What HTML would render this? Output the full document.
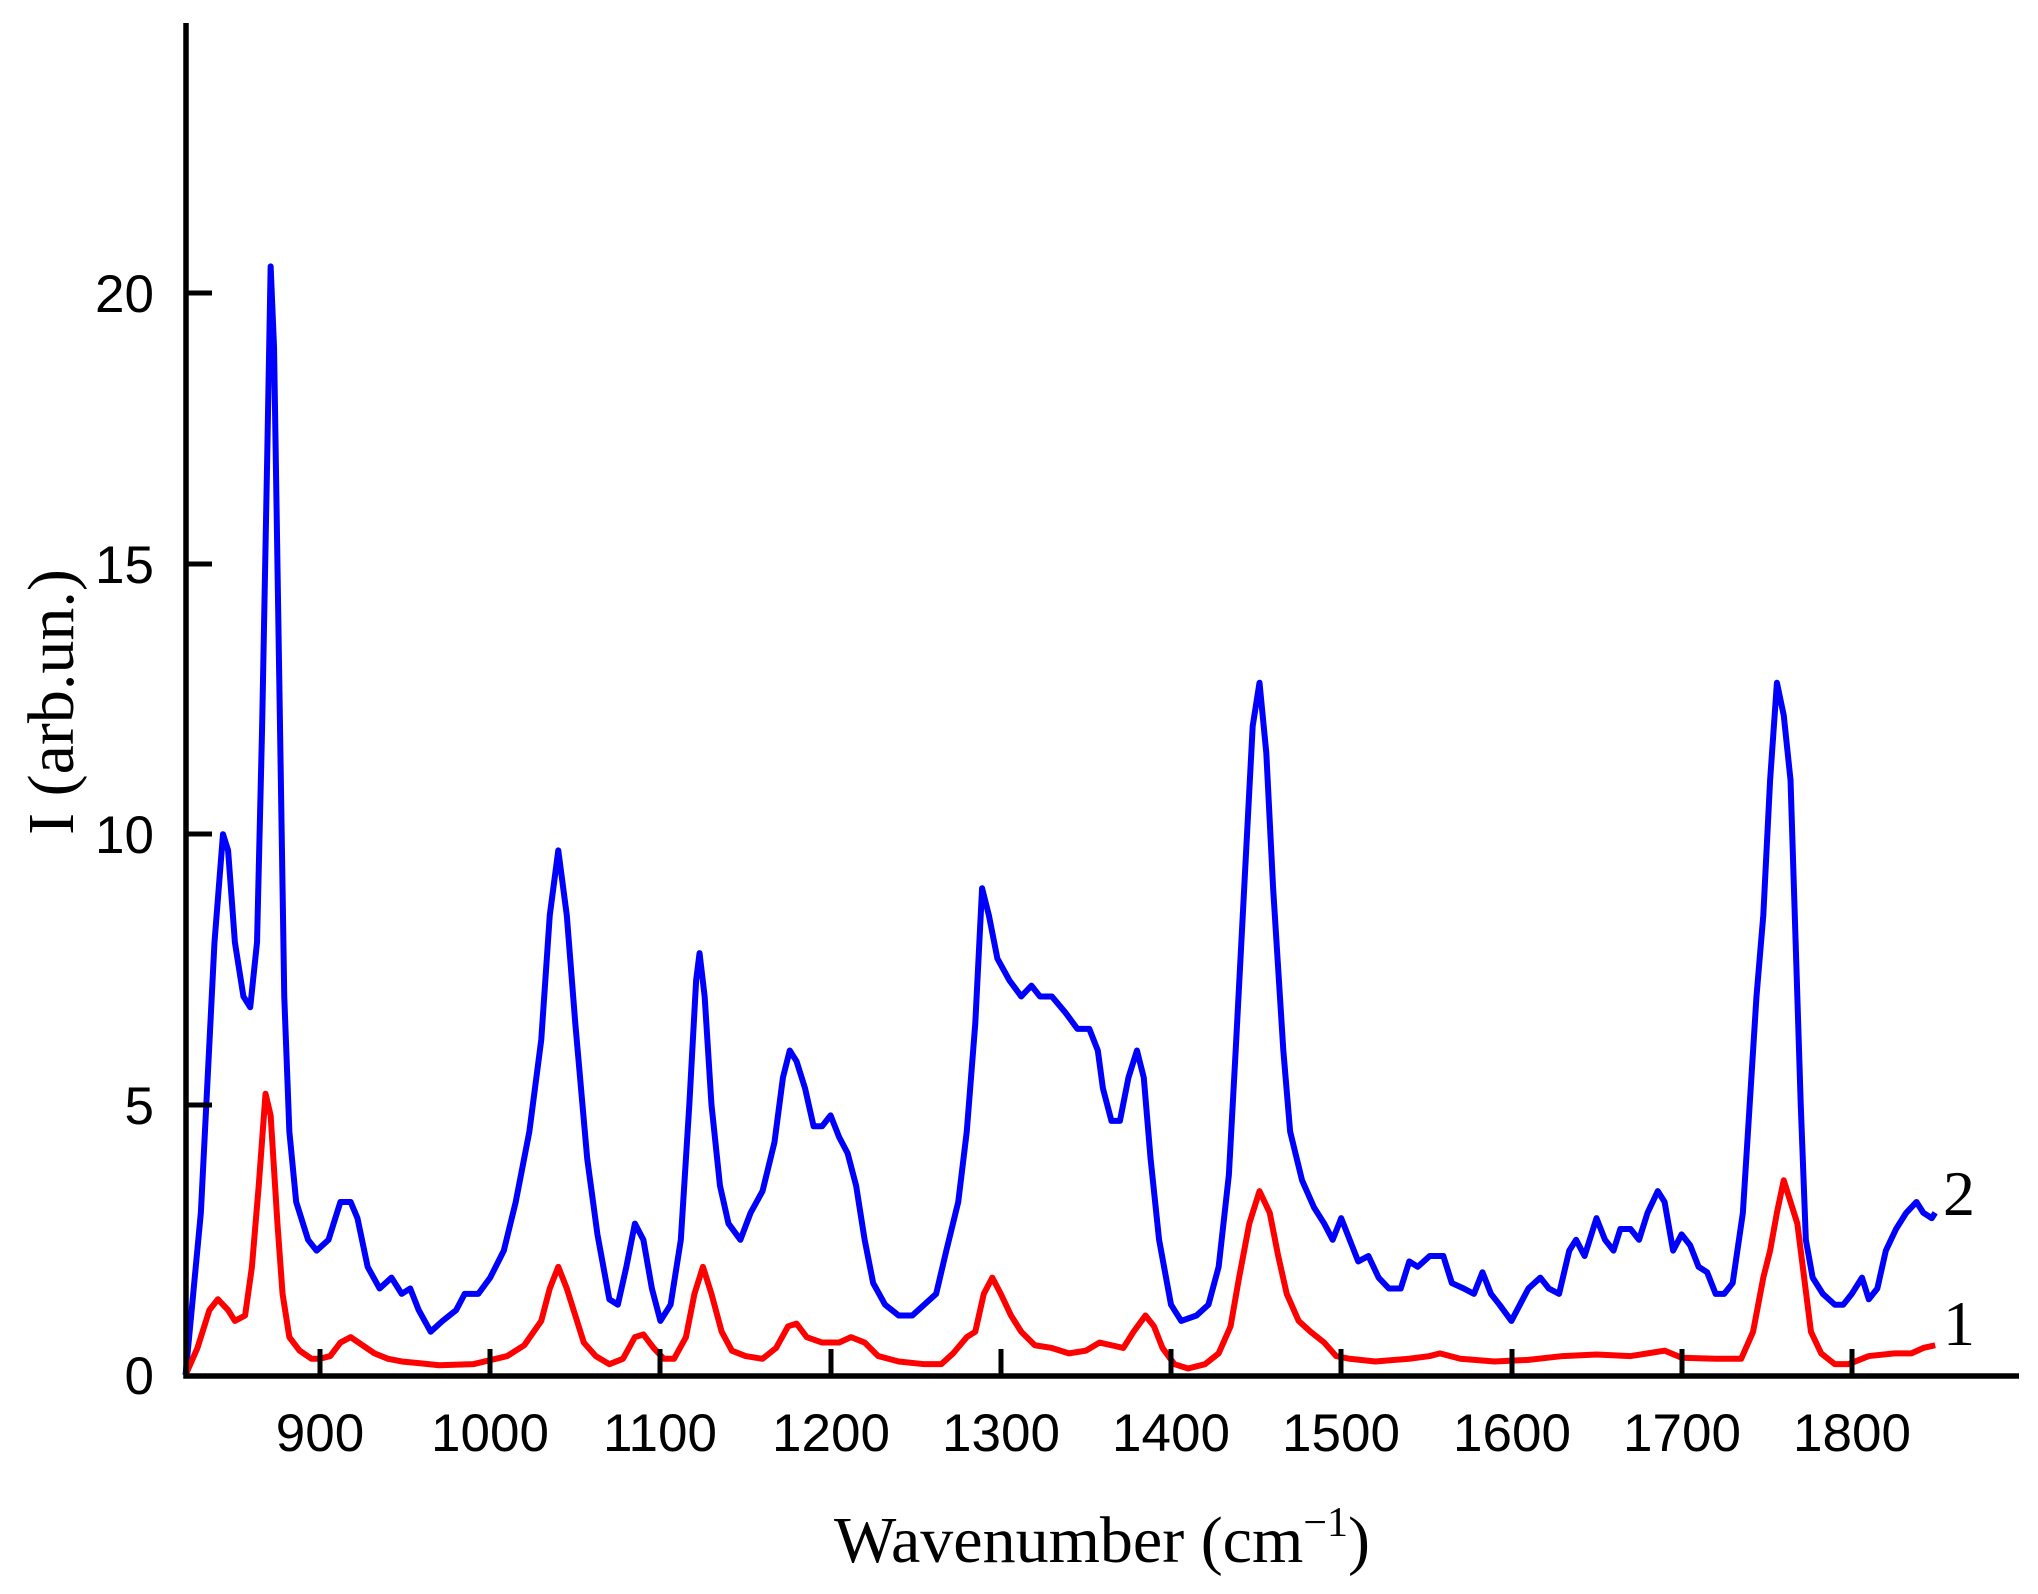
<!DOCTYPE html>
<html><head><meta charset="utf-8"><style>html,body{margin:0;padding:0;background:#fff}</style></head>
<body>
<svg width="2038" height="1589" viewBox="0 0 2038 1589" xmlns="http://www.w3.org/2000/svg">
<rect width="2038" height="1589" fill="#fff"/>
<g transform="translate(320,1375) scale(1.702,-54.08) translate(-900,0)" fill="none" stroke-linejoin="round">
<polyline vector-effect="non-scaling-stroke" stroke="#0000ff" stroke-width="6" points="821,0 830,3 838,8 843,10 846,9.7 850,8 855,7 859,6.8 863,8 866,12 869,17 871,20.5 873,19 876,13 879,7 882,4.5 886,3.2 893,2.5 898,2.3 905,2.5 912,3.2 918,3.2 922,2.9 928,2 935,1.6 942,1.8 948,1.5 953,1.6 958,1.2 965,0.8 972,1.0 980,1.2 985,1.5 993,1.5 1000,1.8 1008,2.3 1015,3.2 1023,4.5 1030,6.2 1035,8.5 1040,9.7 1045,8.5 1050,6.5 1057,4 1063,2.6 1070,1.4 1075,1.3 1080,2 1085,2.8 1090,2.5 1095,1.6 1100,1.0 1106,1.3 1112,2.5 1117,5 1121,7.3 1123,7.8 1126,7 1130,5 1135,3.5 1140,2.8 1147,2.5 1153,3.0 1160,3.4 1167,4.3 1172,5.5 1176,6.0 1180,5.8 1185,5.3 1190,4.6 1195,4.6 1200,4.8 1205,4.4 1210,4.1 1215,3.5 1220,2.5 1225,1.7 1232,1.3 1240,1.1 1248,1.1 1255,1.3 1262,1.5 1268,2.3 1275,3.2 1280,4.5 1285,6.5 1289,9 1293,8.5 1298,7.7 1305,7.3 1312,7.0 1318,7.2 1323,7.0 1330,7.0 1338,6.7 1345,6.4 1352,6.4 1357,6.0 1360,5.3 1365,4.7 1370,4.7 1375,5.5 1380,6.0 1384,5.5 1388,4 1393,2.5 1400,1.3 1406,1.0 1415,1.1 1422,1.3 1428,2 1434,3.7 1438,6 1443,9 1448,12 1452,12.8 1456,11.5 1460,9 1466,6 1470,4.5 1477,3.6 1484,3.1 1490,2.8 1495,2.5 1500,2.9 1505,2.5 1510,2.1 1516,2.2 1522,1.8 1528,1.6 1535,1.6 1540,2.1 1545,2.0 1552,2.2 1560,2.2 1565,1.7 1572,1.6 1578,1.5 1583,1.9 1588,1.5 1593,1.3 1600,1.0 1605,1.3 1610,1.6 1617,1.8 1622,1.6 1628,1.5 1634,2.3 1638,2.5 1643,2.2 1650,2.9 1655,2.5 1660,2.3 1664,2.7 1670,2.7 1675,2.5 1680,3.0 1686,3.4 1690,3.2 1695,2.3 1700,2.6 1705,2.4 1710,2.0 1715,1.9 1720,1.5 1725,1.5 1730,1.7 1736,3 1740,5 1744,7 1748,8.5 1752,11 1756,12.8 1760,12.2 1764,11 1767,8 1770,5 1773,2.5 1777,1.8 1783,1.5 1790,1.3 1795,1.3 1800,1.5 1806,1.8 1810,1.4 1815,1.6 1820,2.3 1826,2.7 1832,3.0 1838,3.2 1842,3.0 1847,2.9 1849,3.0"/>
<polyline vector-effect="non-scaling-stroke" stroke="#ff0000" stroke-width="6" points="821,0 828,0.5 835,1.2 840,1.4 846,1.2 850,1.0 856,1.1 860,2 864,3.5 868,5.2 871,4.8 875,2.8 878,1.5 882,0.7 888,0.45 895,0.3 900,0.3 906,0.35 912,0.6 918,0.7 925,0.55 932,0.4 940,0.3 948,0.25 958,0.22 970,0.18 990,0.2 1010,0.35 1020,0.55 1030,1.0 1035,1.6 1040,2.0 1045,1.6 1050,1.1 1055,0.6 1062,0.35 1070,0.2 1078,0.3 1085,0.7 1090,0.75 1096,0.5 1102,0.3 1108,0.3 1115,0.7 1120,1.5 1125,2.0 1130,1.5 1136,0.8 1142,0.45 1150,0.35 1160,0.3 1168,0.5 1175,0.9 1180,0.95 1186,0.7 1195,0.6 1205,0.6 1212,0.7 1220,0.6 1228,0.35 1240,0.25 1255,0.2 1265,0.2 1272,0.4 1280,0.7 1285,0.8 1290,1.5 1295,1.8 1300,1.5 1306,1.1 1312,0.8 1320,0.55 1330,0.5 1340,0.4 1350,0.45 1358,0.6 1365,0.55 1372,0.5 1378,0.8 1385,1.1 1390,0.9 1395,0.5 1402,0.2 1410,0.12 1420,0.2 1428,0.4 1435,0.9 1440,1.8 1446,2.8 1452,3.4 1458,3.0 1463,2.2 1468,1.5 1475,1.0 1482,0.8 1490,0.6 1497,0.35 1505,0.3 1520,0.25 1540,0.3 1552,0.35 1558,0.4 1570,0.3 1590,0.25 1610,0.28 1630,0.35 1650,0.38 1670,0.35 1690,0.45 1700,0.32 1720,0.3 1735,0.3 1742,0.8 1748,1.8 1752,2.3 1756,3.0 1760,3.6 1764,3.2 1768,2.8 1772,1.8 1776,0.8 1782,0.4 1790,0.2 1798,0.2 1810,0.35 1825,0.4 1835,0.4 1842,0.5 1849,0.55"/>
</g>
<g stroke="#000" stroke-width="5.5" fill="none">
<polyline points="186,23 186,1376 2019,1376"/>
</g>
<g stroke="#000" stroke-width="5">
<line x1="320" y1="1375" x2="320" y2="1349"/><line x1="490" y1="1375" x2="490" y2="1349"/>
<line x1="660" y1="1375" x2="660" y2="1349"/><line x1="831" y1="1375" x2="831" y2="1349"/>
<line x1="1001" y1="1375" x2="1001" y2="1349"/><line x1="1171" y1="1375" x2="1171" y2="1349"/>
<line x1="1341" y1="1375" x2="1341" y2="1349"/><line x1="1512" y1="1375" x2="1512" y2="1349"/>
<line x1="1682" y1="1375" x2="1682" y2="1349"/><line x1="1852" y1="1375" x2="1852" y2="1349"/>
<line x1="186" y1="1105" x2="212" y2="1105"/><line x1="186" y1="834" x2="212" y2="834"/>
<line x1="186" y1="564" x2="212" y2="564"/><line x1="186" y1="293" x2="212" y2="293"/>
</g>
<g font-family="Liberation Sans, sans-serif" font-size="53" fill="#000" text-anchor="middle">
<text x="320" y="1451">900</text><text x="490" y="1451">1000</text><text x="660" y="1451">1100</text>
<text x="831" y="1451">1200</text><text x="1001" y="1451">1300</text><text x="1171" y="1451">1400</text>
<text x="1341" y="1451">1500</text><text x="1512" y="1451">1600</text><text x="1682" y="1451">1700</text>
<text x="1852" y="1451">1800</text>
</g>
<g font-family="Liberation Sans, sans-serif" font-size="53" fill="#000" text-anchor="end">
<text x="154" y="1394">0</text><text x="154" y="1124">5</text><text x="154" y="853">10</text>
<text x="154" y="583">15</text><text x="154" y="312">20</text>
</g>
<g font-family="Liberation Serif, serif" fill="#000">
<text x="1943" y="1215" font-size="64">2</text>
<text x="1943" y="1345" font-size="64">1</text>
<text x="1102" y="1562" font-size="66" text-anchor="middle">Wavenumber (cm<tspan font-size="42" dy="-26">−1</tspan><tspan dy="26">)</tspan></text>
<text transform="translate(73,702) rotate(-90)" font-size="66" text-anchor="middle">I (arb.un.)</text>
</g>
</svg>
</body></html>
